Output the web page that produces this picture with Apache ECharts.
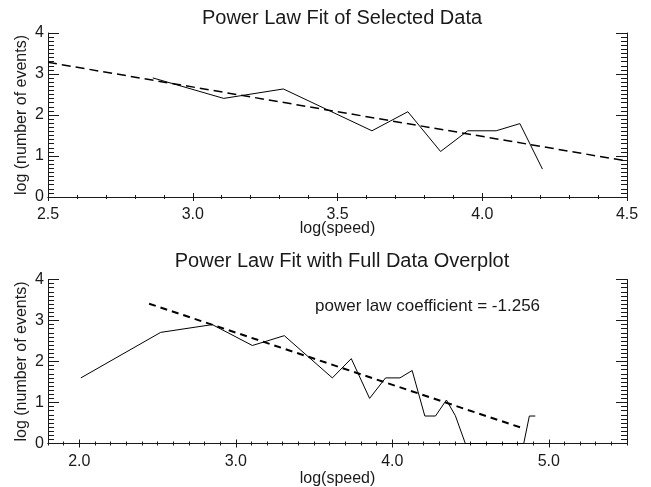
<!DOCTYPE html>
<html>
<head>
<meta charset="utf-8">
<script src="https://cdn.jsdelivr.net/npm/echarts@6/dist/echarts.min.js"></script>
<style>
html,body{margin:0;padding:0;background:#fff;}
#chart{width:651px;height:487px;}
</style>
</head>
<body>
<div id="chart"></div>
<script>
// ---- Data ----
const titles = ['Power Law Fit of Selected Data', 'Power Law Fit with Full Data Overplot'];
const xAxisName = 'log(speed)';
const yAxisName = 'log (number of events)';
const annotation = 'power law coefficient = -1.256';

// selected data (top panel)
const selSpeed  = [2.862, 3.107, 3.313, 3.619, 3.743, 3.856, 3.950, 4.048, 4.130, 4.208];
const selEvents = [2.905, 2.405, 2.635, 1.615, 2.080, 1.110, 1.615, 1.615, 1.790, 0.680];

// fitted line as drawn in top panel
const fitTopSpeed  = [2.5, 4.5];
const fitTopEvents = [3.285, 0.876];

// full data (bottom panel)
const fullSpeed  = [2.010, 2.520, 2.850, 3.106, 3.310, 3.617, 3.738, 3.855, 3.957, 4.049, 4.127, 4.208, 4.276, 4.346, 4.403, 4.467, 4.840, 4.876, 4.914];
const fullEvents = [1.600, 2.710, 2.900, 2.390, 2.630, 1.600, 2.070, 1.100, 1.600, 1.600, 1.780, 0.670, 0.670, 1.060, 0.680, 0.000, 0.000, 0.670, 0.670];

// fitted line as drawn in bottom panel
const fitFullSpeed  = [2.446, 4.820];
const fitFullEvents = [3.410, 0.390];

// axis ranges / tick labels
const topXRange = [2.5, 4.5];
const topXMajor = [2.5, 3.0, 3.5, 4.0, 4.5];
const botXRange = [1.8, 5.5];
const botXMajor = [2.0, 3.0, 4.0, 5.0];
const yRange = [0, 4];
const yMajor = [0, 1, 2, 3, 4];

// ---- helpers ----
function seq(a, b, s) {
  const out = [];
  const n = Math.round((b - a) / s);
  for (let i = 0; i <= n; i++) out.push(+(a + i * s).toFixed(6));
  return out;
}
const FONT = "'Liberation Sans', Arial, Helvetica, sans-serif";
const INK = '#1a1a1a';

function xAxes(gi, range, majors, minorStep) {
  const minors = seq(range[0], range[1], minorStep);
  const base = { type: 'value', gridIndex: gi, min: range[0], max: range[1], splitLine: { show: false } };
  return [
    Object.assign({}, base, {
      position: 'bottom',
      axisLine: { show: true, lineStyle: { color: INK, width: 1 } },
      axisTick: { show: true, inside: true, length: 4, customValues: majors, lineStyle: { color: INK } },
      axisLabel: { show: true, customValues: majors, formatter: v => Number(v).toFixed(1),
        fontFamily: FONT, fontSize: 16, color: INK, margin: 10 },
      name: xAxisName, nameLocation: 'middle', nameGap: gi === 0 ? 24 : 27, nameMoveOverlap: false,
      nameTextStyle: { fontFamily: FONT, fontSize: 16, color: INK }
    }),
    Object.assign({}, base, {
      position: 'bottom',
      axisLine: { show: false },
      axisTick: { show: true, inside: true, length: 2, customValues: minors, lineStyle: { color: INK } },
      axisLabel: { show: false }
    }),
    Object.assign({}, base, {
      position: 'top',
      axisLine: { show: true, lineStyle: { color: INK, width: 1 } },
      axisTick: { show: true, inside: true, length: 4, customValues: majors, lineStyle: { color: INK } },
      axisLabel: { show: false }
    }),
    Object.assign({}, base, {
      position: 'top',
      axisLine: { show: false },
      axisTick: { show: true, inside: true, length: 2, customValues: minors, lineStyle: { color: INK } },
      axisLabel: { show: false }
    })
  ];
}

function yAxes(gi) {
  const minors = seq(yRange[0], yRange[1], 0.1);
  const base = { type: 'value', gridIndex: gi, min: yRange[0], max: yRange[1], splitLine: { show: false } };
  return [
    Object.assign({}, base, {
      position: 'left',
      axisLine: { show: true, lineStyle: { color: INK, width: 1 } },
      axisTick: { show: true, inside: true, length: 11, customValues: yMajor, lineStyle: { color: INK } },
      axisLabel: { show: true, customValues: yMajor, formatter: v => String(Math.round(v)),
        fontFamily: FONT, fontSize: 16, color: INK, margin: 4 },
      name: yAxisName, nameLocation: 'middle', nameGap: 18, nameRotate: 90, nameMoveOverlap: false,
      nameTextStyle: { fontFamily: FONT, fontSize: 16, color: INK }
    }),
    Object.assign({}, base, {
      position: 'left',
      axisLine: { show: false },
      axisTick: { show: true, inside: true, length: 6, customValues: minors, lineStyle: { color: INK } },
      axisLabel: { show: false }
    }),
    Object.assign({}, base, {
      position: 'right',
      axisLine: { show: true, lineStyle: { color: INK, width: 1 } },
      axisTick: { show: true, inside: true, length: 11, customValues: yMajor, lineStyle: { color: INK } },
      axisLabel: { show: false }
    }),
    Object.assign({}, base, {
      position: 'right',
      axisLine: { show: false },
      axisTick: { show: true, inside: true, length: 6, customValues: minors, lineStyle: { color: INK } },
      axisLabel: { show: false }
    })
  ];
}

function pairs(xs, ys) { return xs.map((x, i) => [x, ys[i]]); }

const chart = echarts.init(document.getElementById('chart'), null, { renderer: 'canvas' });
chart.setOption({
  animation: false,
  backgroundColor: '#fff',
  title: [
    { text: titles[0], left: 337, top: 3, textAlign: 'center',
      textStyle: { fontFamily: FONT, fontSize: 20, fontWeight: 'normal', color: INK } },
    { text: titles[1], left: 337, top: 246, textAlign: 'center',
      textStyle: { fontFamily: FONT, fontSize: 20, fontWeight: 'normal', color: INK } }
  ],
  grid: [
    { left: 48, top: 33, width: 579, height: 164, outerBoundsMode: 'none' },
    { left: 48, top: 279.5, width: 579, height: 164, outerBoundsMode: 'none' }
  ],
  xAxis: [].concat(xAxes(0, topXRange, topXMajor, 0.1), xAxes(1, botXRange, botXMajor, 0.1)),
  yAxis: [].concat(yAxes(0), yAxes(1)),
  graphic: [
    { type: 'text', left: 315, top: 298,
      style: { text: annotation, fontFamily: FONT, fontSize: 17, fill: INK } }
  ],
  series: [
    { type: 'line', xAxisIndex: 0, yAxisIndex: 0, data: pairs(selSpeed, selEvents),
      symbol: 'none', lineStyle: { color: '#000', width: 1 }, clip: true },
    { type: 'line', xAxisIndex: 0, yAxisIndex: 0, data: pairs(fitTopSpeed, fitTopEvents),
      symbol: 'none', lineStyle: { color: '#000', width: 1.5, type: [9, 5] }, clip: true },
    { type: 'line', xAxisIndex: 4, yAxisIndex: 4, data: pairs(fullSpeed, fullEvents),
      symbol: 'none', lineStyle: { color: '#000', width: 1 }, clip: true },
    { type: 'line', xAxisIndex: 4, yAxisIndex: 4, data: pairs(fitFullSpeed, fitFullEvents),
      symbol: 'none', lineStyle: { color: '#000', width: 2, type: [7, 5] }, clip: true }
  ]
});
</script>
</body>
</html>
